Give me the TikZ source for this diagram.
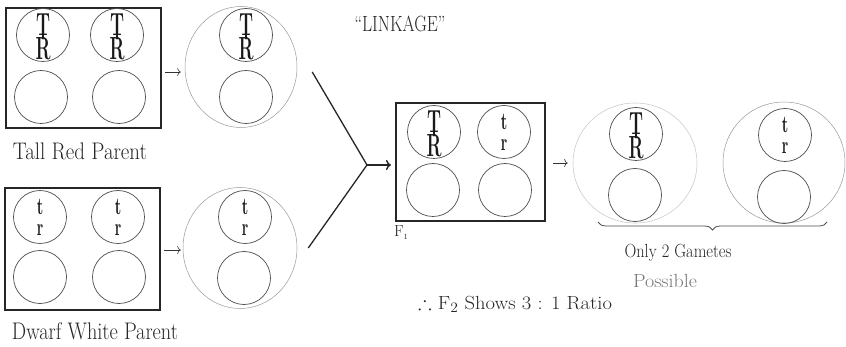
\documentclass[tikz,border=0pt]{standalone}
\usepackage{amssymb}
\usetikzlibrary{shapes.geometric,decorations.pathreplacing,arrows.meta}

% stretch a piece of text to a given width, keeping its height
\newcommand\wfit[3]{\resizebox{#1}{\height}{\fontsize{#2}{#2}\selectfont #3}}

\begin{document}
\begin{tikzpicture}[x=1pt,y=-1pt,
  frame/.style={draw=black!85,line width=1.3pt,inner sep=0pt,outer sep=0pt},
  cell/.style={circle,draw=black!70,line width=0.7pt,minimum size=53pt,inner sep=0pt},
  gamete/.style={ellipse,draw=black!40,line width=0.5pt,inner sep=0pt},
  faint/.style={ellipse,draw=black!20,line width=0.6pt,inner sep=0pt},
  glyph/.style={inner sep=0pt,outer sep=0pt,text=black!90,align=center},
  label/.style={inner sep=0pt,outer sep=0pt,anchor=base,text=black!85},
  arr/.style={-{To[length=3.5pt,width=8pt]},line width=0.6pt,black!80},
  bigarr/.style={-{To[length=5pt,width=10pt]},line width=1.4pt,black!85},
  joinline/.style={line width=1.3pt,black!85},
  % capital pair: T linked to R by a stem ending in a dot
  pics/TR/.style={code={
    \node[glyph,font=\fontsize{32}{24}\selectfont] (-TR) at (0,2)
      {\wfit{14pt}{32}{\bfseries T}\\\wfit{15pt}{32}{\bfseries R}};
    \draw[line width=1.6pt,black!90] (0,-3) -- (0,3);
    \fill[black!90] (0,3) circle (1.6pt);
  }},
  % small pair: t above r
  pics/tr/.style={code={
    \node[glyph,font=\fontsize{24}{21}\selectfont] (-tr) at (0,0)
      {\wfit{6.5pt}{24}{\bfseries t}\\\wfit{6.5pt}{24}{\bfseries r}};
  }}
]
\useasboundingbox (0,0) rectangle (846,347);

% ---- tall red parent ----
\node[frame,minimum width=155pt,minimum height=120pt] (b1) at (83.5,68) {};
\node[cell] (b1a) at (43,35) {};
\node[cell] (b1b) at (117,35) {};
\node[cell] (b1c) at (41,97) {};
\node[cell] (b1d) at (119,97) {};
\pic (p1a) at (b1a) {TR};
\pic (p1b) at (b1b) {TR};
\node[label] (n1) at (80,160) {\wfit{134pt}{24}{Tall Red Parent}};

\node[gamete,minimum width=112pt,minimum height=121pt] (g1) at (241,67) {};
\node[cell] (g1a) at (246,35) {};
\node[cell] (g1b) at (246,97) {};
\pic (q1) at (g1a) {TR};

% ---- dwarf white parent ----
\node[frame,minimum width=155pt,minimum height=122pt] (b2) at (82.5,249) {};
\node[cell] (b2a) at (40,217) {};
\node[cell] (b2b) at (118,217) {};
\node[cell] (b2c) at (40,277) {};
\node[cell] (b2d) at (119,277) {};
\pic (p2a) at (b2a) {tr};
\pic (p2b) at (b2b) {tr};
\node[label] (n2) at (95,340) {\wfit{166pt}{24}{Dwarf White Parent}};

\node[gamete,minimum width=114pt,minimum height=121pt] (g2) at (240,248) {};
\node[cell] (g2a) at (245,217) {};
\node[cell] (g2b) at (244,278) {};
\pic (q2) at (g2a) {tr};

% ---- parents to gametes ----
\draw[arr,shorten >=4pt] ([xshift=4pt,yshift=-4pt]b1.east) -- ([yshift=-4pt]b1.east -| g1.west);
\draw[arr,shorten >=2pt] ([xshift=4pt,yshift=-1pt]b2.east) -- ([yshift=-1pt]b2.east -| g2.west);

% ---- fusion of the gametes ----
\node[frame,minimum width=149pt,minimum height=118pt] (f1) at (470.5,162) {};
\node[cell] (f1a) at (434,132) {};
\node[cell] (f1b) at (504,132) {};
\node[cell] (f1c) at (433,190) {};
\node[cell] (f1d) at (505,190) {};
\pic (r1) at (f1a) {TR};
\pic (r2) at (f1b) {tr};
\node[label,anchor=base west] (n3) at (394,237) {\fontsize{16}{16}\selectfont F$_{\scriptscriptstyle 1}$};

\coordinate (j) at (367,165);
\draw[joinline] ([shift={(15,5)}]g1.east) -- (j);
\draw[joinline] ([shift={(11,0)}]g2.east) -- (j);
\draw[bigarr,shorten >=5pt] (j) -- (j -| f1.west);

% ---- gametes of the hybrid ----
\node[faint,minimum width=124pt,minimum height=120pt] (h1) at (635,163) {};
\node[cell] (h1a) at (636,134) {};
\node[cell] (h1b) at (635,195) {};
\pic (s1) at (h1a) {TR};

\node[gamete,minimum width=122pt,minimum height=121pt] (h2) at (784,162.5) {};
\node[cell] (h2a) at (785,135) {};
\node[cell] (h2b) at (784,197) {};
\pic (s2) at (h2a) {tr};

\draw[arr,shorten >=5pt] ([xshift=8pt,yshift=-1pt]f1.east) -- ([yshift=-1pt]f1.east -| h1.west);

\coordinate (brl) at (598,222);
\coordinate (brr) at (827,222);
\draw[decorate,decoration={brace,mirror,amplitude=8pt},line width=0.8pt,black!70] (brl) -- (brr);

% ---- texts ----
\node[label] (title) at (400,32) {\wfit{91pt}{22}{``LINKAGE''}};
\node[label] (only) at (678,258) {\wfit{107pt}{19}{Only 2 Gametes}};
\node[label,text=black!55] (poss) at (665,288) {\wfit{64pt}{19}{Possible}};
\node[label] (ratio) at (515,309) {\wfit{194pt}{19}{$\therefore$ F$_2$ Shows 3 : 1 Ratio}};
\end{tikzpicture}
\end{document}
